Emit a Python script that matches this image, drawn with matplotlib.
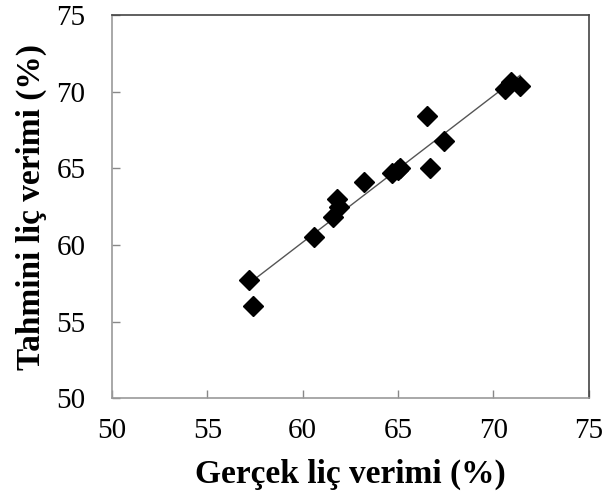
import numpy as np
import matplotlib
matplotlib.use("Agg")
import matplotlib.pyplot as plt

# Gerçek (deneysel) ve tahmini liç verimleri, %
gercek = [57.2, 57.4, 60.6, 61.6, 61.8, 61.9, 63.2, 64.7, 65.0, 65.1, 66.5, 66.7, 67.4, 70.6, 70.9, 71.4]
tahmini = [57.7, 56.0, 60.5, 61.8, 63.0, 62.5, 64.1, 64.7, 64.9, 65.0, 68.4, 65.0, 66.8, 70.2, 70.6, 70.4]

plt.rcParams["font.family"] = ["Liberation Serif", "DejaVu Serif"]

fig = plt.figure(figsize=(6.04, 4.94), dpi=100)
ax = fig.add_axes([0.1854, 0.1937, 0.7893, 0.7759])

# trend çizgisi (en küçük kareler)
m, b = np.polyfit(gercek, tahmini, 1)
xs = np.array([min(gercek), max(gercek)])
ax.plot(xs, m * xs + b, color="#555555", lw=1.0, zorder=2)

ax.plot(gercek, tahmini, linestyle="none", marker="D", ms=10.5,
        color="black", zorder=3)

ax.set_xlim(50, 75)
ax.set_ylim(50, 75)
ax.set_xticks(range(50, 76, 5))
ax.set_yticks(range(50, 76, 5))
ax.tick_params(direction="in", length=6, width=1, color="#888888",
               labelsize=21, pad=14)
ax.tick_params(axis="y", pad=19)

for s in ["left", "bottom"]:
    ax.spines[s].set_color("#999999")
    ax.spines[s].set_linewidth(1.2)
for s in ["top", "right"]:
    ax.spines[s].set_color("#444444")
    ax.spines[s].set_linewidth(1.2)

ax.set_xlabel("Gerçek liç verimi (%)", fontsize=24, fontweight="bold", labelpad=11)
ax.set_ylabel("Tahmini liç verimi (%)", fontsize=24, fontweight="bold", labelpad=7)

fig.savefig("out.png", dpi=100)
